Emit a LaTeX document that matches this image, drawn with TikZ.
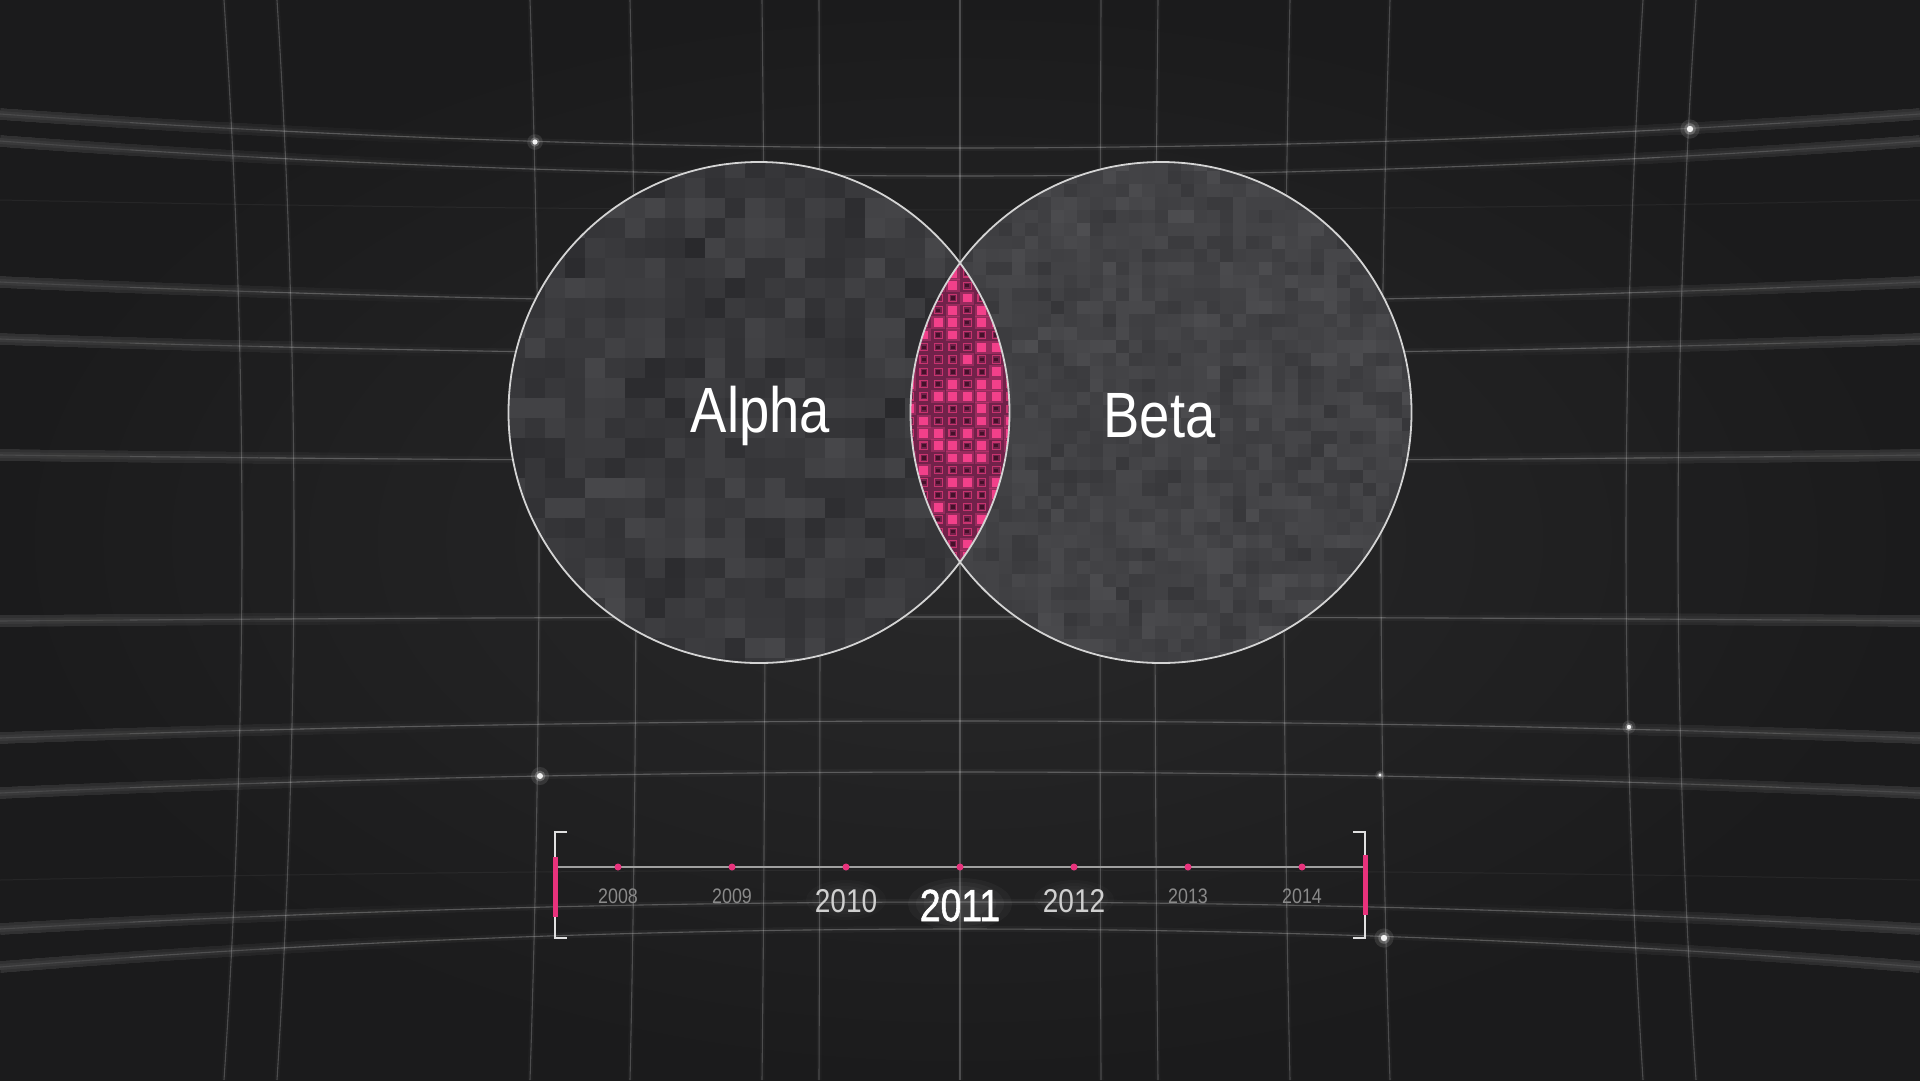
\documentclass[tikz,border=0pt]{standalone}
\usepackage{fontspec}
\setmainfont[FakeStretch=0.85]{Liberation Sans}
\newfontfamily\glowfont[FakeStretch=0.83, FakeBold=1.2]{Liberation Sans}
\definecolor{bgin}{HTML}{29292A}
\definecolor{bgout}{HTML}{1B1B1C}
\definecolor{pinkc}{HTML}{E8327C}
\definecolor{pinkbright}{HTML}{F2408A}
\definecolor{pinkline}{HTML}{C8336F}
\definecolor{pinkdark}{HTML}{45102A}
\definecolor{lensbg}{HTML}{71224A}
\definecolor{ringc}{HTML}{D4D4D4}
\definecolor{tlgray}{HTML}{A0A0A0}
\definecolor{yrsmall}{HTML}{8A8A8A}
\definecolor{yrmid}{HTML}{D0D0D0}
\tikzset{
  gridline/.style={white, opacity=0.24, line width=1.1pt},
  gridsoft/.style={white, opacity=0.035, line width=6pt},
  vgridline/.style={white, opacity=0.2, line width=1.1pt},
  gridblur/.style={white, opacity=0.012, line width=12pt},
  halo/.style={white, opacity=0.035},
  ring/.style={draw=ringc, line width=1.8pt},
  bigtitle/.style={text=white, font=\fontsize{64}{64}\selectfont, inner sep=0pt, anchor=base},
  yrs/.style={text=yrsmall, font=\fontsize{21}{21}\selectfont, inner sep=0pt, anchor=base},
  yrm/.style={text=yrmid, font=\fontsize{33}{33}\selectfont, inner sep=0pt, anchor=base},
  yrb/.style={text=white, font=\glowfont\fontsize{45}{45}\selectfont, inner sep=0pt, anchor=base},
  tdot/.style={circle, fill=pinkc, inner sep=0pt, minimum size=7pt},
  bracketline/.style={draw=white!88!black, line width=2.4pt},
  pinkbar/.style={draw=pinkc, line width=5pt},
}
\begin{document}
\begin{tikzpicture}[x=1pt,y=-1pt]
\useasboundingbox (0,0) rectangle (1920,1080);
\shade[inner color=bgin, outer color=bgout] (0,0) rectangle (1920,1080);

% warped grid: horizontal lines (sharp in the middle, blurred at the edges)
\foreach \ye/\yc in {114/148, 141/176, 282/303, 339/355, 455/461, 621/617, 738/721, 793/772, 929/902, 967/929}{
  \draw[gridsoft] plot[domain=0:1920, samples=30] (\x, {\yc+(\ye-\yc)*((\x-960)/960)^2});
  \draw[gridline] plot[domain=260:1660, samples=30] (\x, {\yc+(\ye-\yc)*((\x-960)/960)^2});
  \draw[gridline, opacity=0.15] plot[domain=130:260, samples=5] (\x, {\yc+(\ye-\yc)*((\x-960)/960)^2});
  \draw[gridline, opacity=0.15] plot[domain=1660:1790, samples=5] (\x, {\yc+(\ye-\yc)*((\x-960)/960)^2});
  \draw[gridline, opacity=0.08] plot[domain=0:130, samples=5] (\x, {\yc+(\ye-\yc)*((\x-960)/960)^2});
  \draw[gridline, opacity=0.08] plot[domain=1790:1920, samples=5] (\x, {\yc+(\ye-\yc)*((\x-960)/960)^2});
  \foreach \w in {40,80,...,440}{
    \draw[gridblur] plot[domain=0:\w, samples=8] (\x, {\yc+(\ye-\yc)*((\x-960)/960)^2});
    \draw[gridblur] plot[domain=1920-\w:1920, samples=8] (\x, {\yc+(\ye-\yc)*((\x-960)/960)^2});
  }
}
\foreach \ye/\yc in {200/210, 880/870}{
  \draw[white, opacity=0.05, line width=1pt] plot[domain=0:1920, samples=30] (\x, {\yc+(\ye-\yc)*((\x-960)/960)^2});
}
% vertical lines
\foreach \xe/\xc in {224/242, 277/294, 530/539, 630/636, 762/765, 819/820, 960/960, 1101/1100, 1158/1155, 1290/1284, 1390/1381, 1643/1626, 1696/1678}{
  \pgfmathsetmacro\xk{\xe+4/3*(\xc-\xe)}
  \draw[gridsoft, opacity=0.025, line width=5pt] (\xe,0) .. controls (\xk,360) and (\xk,720) .. (\xe,1080);
  \draw[vgridline] (\xe,0) .. controls (\xk,360) and (\xk,720) .. (\xe,1080);
}
% glints
\foreach \gx/\gy/\gr in {535/142/2.6, 1690/129/3.2, 540/776/3, 1384/938/3.2, 1629/727/2.2, 1380/775/1.6}{
  \fill[white, opacity=0.10] (\gx,\gy) circle[radius=3*\gr];
  \fill[white, opacity=0.22] (\gx,\gy) circle[radius=1.8*\gr];
  \fill[white, opacity=0.9] (\gx,\gy) circle[radius=\gr];
}

% circles
\node[circle, inner sep=0pt, minimum size=501pt] (alpha) at (759,412.5) {};
\node[circle, inner sep=0pt, minimum size=501pt] (beta) at (1161,412.5) {};

\pgfmathsetseed{4711}
% Alpha mosaic
\begin{scope}
  \clip (759,412.5) circle[radius=250.5pt];
  \fill[fill={rgb,255:red,58;green,59;blue,62}] (505,158) rectangle (1015,668);
  \foreach \i in {0,...,12}{
    \foreach \j in {0,...,12}{
      \pgfmathrandominteger{\g}{42}{70}
      \pgfmathtruncatemacro\gb{\g+3}
      \fill[fill={rgb,255:red,\g;green,\g;blue,\gb}] (505+40*\i,158+40*\j) rectangle ++(40,40);
    }
  }
  \foreach \i in {0,...,25}{
    \foreach \j in {0,...,25}{
      \pgfmathrandominteger{\g}{40}{74}
      \pgfmathtruncatemacro\gb{\g+3}
      \fill[fill={rgb,255:red,\g;green,\g;blue,\gb}, opacity=0.55] (505+20*\i,158+20*\j) rectangle ++(20,20);
    }
  }
\end{scope}
% Beta mosaic
\begin{scope}
  \clip (1161,412.5) circle[radius=250.5pt];
  \fill[fill={rgb,255:red,66;green,67;blue,70}] (908,158) rectangle (1416,668);
  \foreach \i in {0,...,19}{
    \foreach \j in {0,...,19}{
      \pgfmathrandominteger{\g}{56}{76}
      \pgfmathtruncatemacro\gb{\g+3}
      \fill[fill={rgb,255:red,\g;green,\g;blue,\gb}] (908+26*\i,158+26*\j) rectangle ++(26,26);
    }
  }
  \foreach \i in {0,...,38}{
    \foreach \j in {0,...,38}{
      \pgfmathrandominteger{\g}{54}{80}
      \pgfmathtruncatemacro\gb{\g+3}
      \fill[fill={rgb,255:red,\g;green,\g;blue,\gb}, opacity=0.55] (908+13*\i,158+13*\j) rectangle ++(13,13);
    }
  }
\end{scope}
% Lens
\begin{scope}
  \clip (759,412.5) circle[radius=250.5pt];
  \clip (1161,412.5) circle[radius=250.5pt];
  \fill[lensbg] (905,255) rectangle (1015,570);
  \foreach \i in {-4,...,3}{
    \foreach \k in {0,...,25}{
      \pgfmathsetmacro\cx{960+14.5*(\i+0.5)}
      \pgfmathsetmacro\cy{261.1+12.3*\k}
      \pgfmathrandominteger{\b}{0}{99}
      \ifnum\b<38
        \fill[pinkbright, opacity=0.30] (\cx-7,\cy-6.5) rectangle (\cx+7,\cy+6.5);
        \fill[pinkbright] (\cx-4.6,\cy-4.4) rectangle (\cx+4.6,\cy+4.4);
      \else
        \draw[pinkline, line width=1.1pt] (\cx-3.8,\cy-3.6) rectangle (\cx+3.8,\cy+3.6);
        \fill[pinkdark] (\cx-1.8,\cy-1.7) rectangle (\cx+1.8,\cy+1.7);
      \fi
    }
  }
\end{scope}
\draw[ring] (759,412.5) circle[radius=250.5pt];
\draw[ring] (1161,412.5) circle[radius=250.5pt];

\node[bigtitle] (alphaText) at (760.5,432) {Alpha};
\node[bigtitle] (betaText) at (1159.5,437) {Beta};

% timeline
\coordinate (tlL) at (555,867);
\coordinate (tlR) at (1365,867);
\draw[tlgray, line width=1.8pt] (tlL) -- (tlR);
\draw[bracketline] (567,832) -- (555,832) -- (555,938) -- (567,938);
\draw[bracketline] (1353,832) -- (1365,832) -- (1365,938) -- (1353,938);
\draw[pinkbar] (555,857) -- (555,917);
\draw[pinkbar] (1365,855) -- (1365,915);
\foreach \yr/\k in {2008/0,2009/1,2010/2,2011/3,2012/4,2013/5,2014/6}{
  \node[tdot] (d\yr) at (618+114*\k,867) {};
}
% soft halos behind the highlighted years
\foreach \s in {1.0,0.85,0.7,0.55}{
  \fill[halo] (960,904) ellipse[x radius=52*\s, y radius=26*\s];
  \fill[halo, opacity=0.02] (846,900) ellipse[x radius=40*\s, y radius=20*\s];
  \fill[halo, opacity=0.02] (1074,900) ellipse[x radius=40*\s, y radius=20*\s];
}
\node[yrs] (y2008) at (d2008 |- 0,903) {2008};
\node[yrs] (y2009) at (d2009 |- 0,903) {2009};
\node[yrm] (y2010) at (d2010 |- 0,912) {2010};
\node[yrb] (y2011) at (d2011 |- 0,921) {2011};
\node[yrm] (y2012) at (d2012 |- 0,912) {2012};
\node[yrs] (y2013) at (d2013 |- 0,903) {2013};
\node[yrs] (y2014) at (d2014 |- 0,903) {2014};
\end{tikzpicture}
\end{document}
